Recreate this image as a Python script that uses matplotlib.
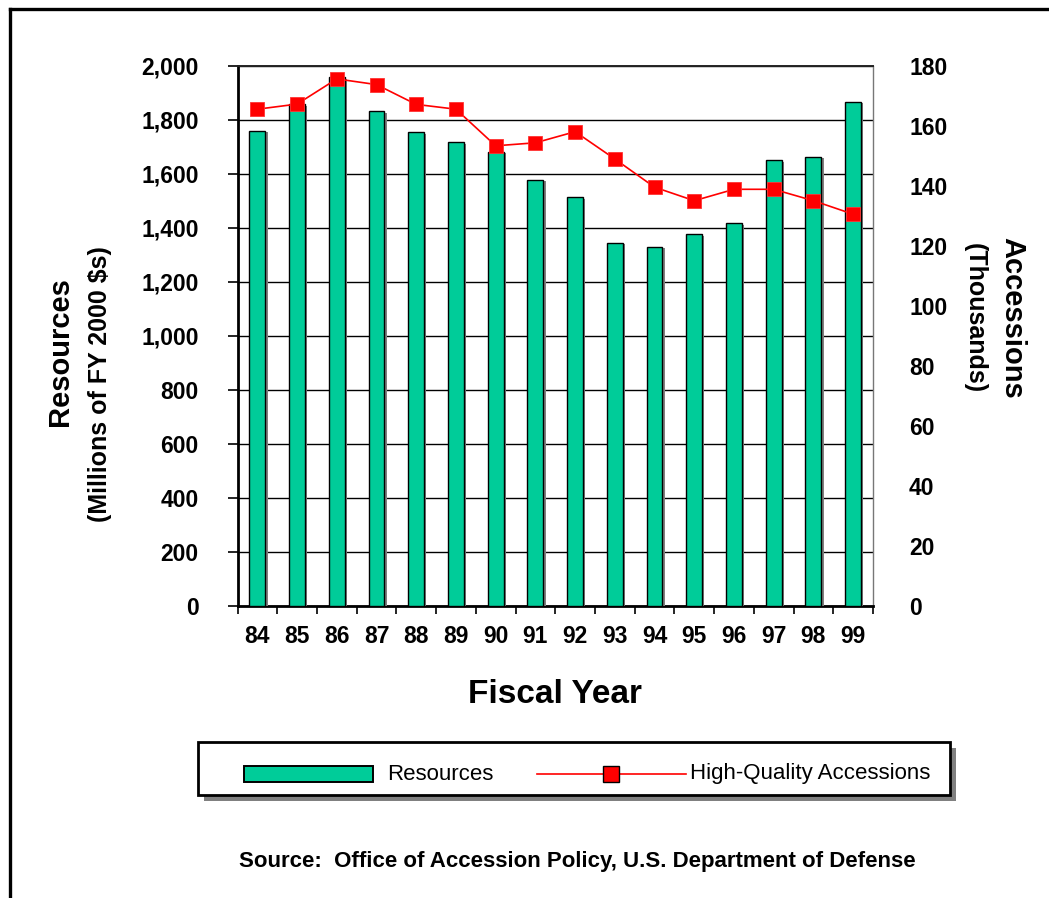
import matplotlib
matplotlib.use("Agg")
import matplotlib.pyplot as plt
import matplotlib.patheffects as pe
from matplotlib.lines import Line2D
from matplotlib.patches import Rectangle
from matplotlib.ticker import FuncFormatter, FixedLocator

# ---------------------------------------------------
# Recruiting resources vs. high-quality accessions
# ---------------------------------------------------

YEARS = ["84", "85", "86", "87", "88", "89", "90", "91",
         "92", "93", "94", "95", "96", "97", "98", "99"]

# Resources, millions of FY 2000 dollars
RESOURCES = [1759, 1857, 1957, 1832, 1753, 1716, 1681, 1578,
             1513, 1344, 1330, 1376, 1416, 1651, 1663, 1867]

# High-quality accessions, thousands
ACCESSIONS = [165.5, 167.2, 175.6, 173.7, 167.1, 165.5, 153.3, 154.3,
              158.0, 148.9, 139.5, 135.0, 138.8, 138.8, 135.0, 130.5]

BAR_COLOR = "#00CC99"
LINE_COLOR = "#FF0000"

plt.rcParams["font.family"] = ["Liberation Sans", "DejaVu Sans"]

W, H = 1049, 898
fig = plt.figure(figsize=(W / 100, H / 100), dpi=100)


def fx(px):
    return px / W


def fy(py):
    return 1 - py / H


ax = fig.add_axes([fx(237.5), fy(605.7), fx(873) - fx(237.5), fy(65.7) - fy(605.7)])

x = list(range(len(YEARS)))

# bars with a small grey drop shadow
bars = ax.bar(x, RESOURCES, width=0.4, color=BAR_COLOR, edgecolor="black",
              linewidth=1.0, zorder=3)
for b in bars:
    b.set_path_effects([pe.SimplePatchShadow(offset=(1.6, -1.2), shadow_rgbFace="#808080", alpha=1.0),
                        pe.Normal()])

ax.set_xlim(-0.5, len(YEARS) - 0.5)
ax.set_ylim(0, 2000)
ax.set_yticks(range(0, 2001, 200))
ax.yaxis.set_major_formatter(FuncFormatter(lambda v, p: f"{int(v):,}"))
ax.set_axisbelow(True)
ax.yaxis.grid(True, color="black", linewidth=1.0)

ax.set_xticks(x)
ax.set_xticklabels(YEARS)
ax.xaxis.set_minor_locator(FixedLocator([i - 0.5 for i in range(len(YEARS) + 1)]))
ax.tick_params(axis="x", which="major", length=0, pad=14, labelsize=16.5)
ax.tick_params(axis="x", which="minor", length=6, width=1.2, direction="out")
ax.tick_params(axis="y", length=7, width=1.2, direction="out", pad=21, labelsize=16.5)
for lbl in ax.get_xticklabels() + ax.get_yticklabels():
    lbl.set_fontweight("bold")

ax.spines["left"].set_linewidth(2.0)
ax.spines["bottom"].set_linewidth(2.0)
ax.spines["top"].set_linewidth(1.4)
ax.spines["top"].set_color("#222222")
ax.spines["right"].set_linewidth(1.0)
ax.spines["right"].set_color("#777777")

ax.set_xlabel("Fiscal Year", fontsize=24, fontweight="bold", labelpad=22)

# accessions on the secondary axis
ax2 = ax.twinx()
ax2.plot(x, ACCESSIONS, color=LINE_COLOR, linewidth=1.2, marker="s",
         markersize=10, markerfacecolor=LINE_COLOR, markeredgecolor="#FF3333",
         markeredgewidth=0.6, zorder=5)
ax2.set_ylim(0, 180)
ax2.set_yticks(range(0, 181, 20))
ax2.tick_params(axis="y", length=0, pad=26, labelsize=16.5)
for lbl in ax2.get_yticklabels():
    lbl.set_fontweight("bold")
for s in ax2.spines.values():
    s.set_visible(False)

# axis titles
fig.text(fx(60), fy(352), "Resources", rotation=90, ha="center", va="center",
         fontsize=21, fontweight="bold")
fig.text(fx(100), fy(384), "(Millions of FY 2000 $s)", rotation=90, ha="center",
         va="center", fontsize=18, fontweight="bold")
fig.text(fx(1012), fy(318), "Accessions", rotation=270, ha="center", va="center",
         fontsize=21, fontweight="bold")
fig.text(fx(975), fy(318), "(Thousands)", rotation=270, ha="center", va="center",
         fontsize=18, fontweight="bold")

# legend box, drawn by hand so both keys keep their own lengths
lx0, ly0, lx1, ly1 = 198, 742, 950, 795
shadow = Rectangle((fx(lx0 + 6), fy(ly1 + 6)), fx(lx1 - lx0), fy(ly0) - fy(ly1),
                   transform=fig.transFigure, facecolor="#808080", edgecolor="none")
fig.add_artist(shadow)
box = Rectangle((fx(lx0), fy(ly1)), fx(lx1 - lx0), fy(ly0) - fy(ly1),
                transform=fig.transFigure, facecolor="white", edgecolor="black",
                linewidth=2.0)
fig.add_artist(box)

key = Rectangle((fx(244), fy(782)), fx(373 - 244), fy(766) - fy(782),
                transform=fig.transFigure, facecolor=BAR_COLOR, edgecolor="black",
                linewidth=1.4)
fig.add_artist(key)
fig.text(fx(387), fy(774), "Resources", ha="left", va="center", fontsize=16)

fig.add_artist(Line2D([fx(537), fx(686)], [fy(774), fy(774)], transform=fig.transFigure,
                      color=LINE_COLOR, linewidth=1.2))
fig.add_artist(Line2D([fx(611)], [fy(774)], transform=fig.transFigure, marker="s",
                      markersize=11, markerfacecolor=LINE_COLOR, markeredgecolor="black",
                      markeredgewidth=1.0, linestyle="None"))
fig.text(fx(690), fy(774), "High-Quality Accessions", ha="left", va="center", fontsize=16)

fig.text(fx(577), fy(862), "Source:  Office of Accession Policy, U.S. Department of Defense",
         ha="center", va="center", fontsize=16, fontweight="bold")

# outer frame (top and left edges)
fig.add_artist(Line2D([fx(10), 1.0], [fy(9), fy(9)], transform=fig.transFigure,
                      color="black", linewidth=2.4))
fig.add_artist(Line2D([fx(10), fx(10)], [fy(9), 0.0], transform=fig.transFigure,
                      color="black", linewidth=2.4))

fig.savefig("out.png", dpi=100)
